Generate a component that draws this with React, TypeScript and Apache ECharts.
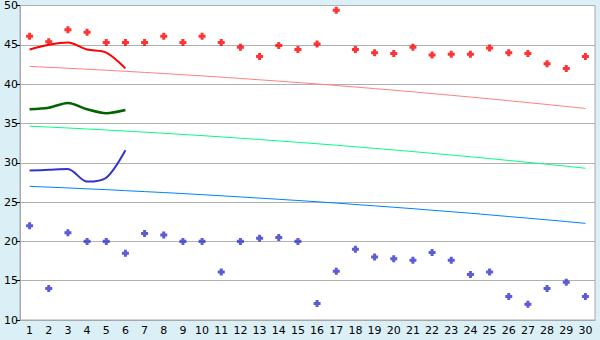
import React, { useEffect, useRef } from "react";
import * as echarts from "echarts";

const categories = Array.from({ length: 30 }, (_, i) => String(i + 1));

const redPoints = [46.1, 45.4, 46.9, 46.6, 45.3, 45.3, 45.3, 46.1, 45.3, 46.1, 45.3, 44.7, 43.5, 44.9, 44.4, 45.1, 49.4, 44.4, 44.0, 43.9, 44.7, 43.7, 43.8, 43.8, 44.6, 44.0, 43.9, 42.6, 42.0, 43.5];
const bluePoints = [22.0, 14.0, 21.1, 20.0, 20.0, 18.5, 21.0, 20.8, 20.0, 20.0, 16.1, 20.0, 20.4, 20.5, 20.0, 12.1, 16.2, 19.0, 18.0, 17.8, 17.6, 18.6, 17.6, 15.8, 16.1, 13.0, 12.0, 14.0, 14.8, 13.0];

const redCurve = [44.4, 45.0, 45.3, 44.4, 44.0, 42.0];
const greenCurve = [36.8, 37.0, 37.6, 36.8, 36.3, 36.7];
const blueCurve = [29.0, 29.1, 29.2, 27.6, 28.1, 31.6];

const pinkTrend = [42.25, 42.14, 42.02, 41.89, 41.77, 41.63, 41.49, 41.35, 41.2, 41.05, 40.89, 40.72, 40.55, 40.38, 40.2, 40.02, 39.83, 39.63, 39.43, 39.23, 39.02, 38.8, 38.58, 38.36, 38.13, 37.89, 37.65, 37.41, 37.16, 36.9];
const greenTrend = [34.65, 34.54, 34.42, 34.29, 34.17, 34.03, 33.89, 33.75, 33.6, 33.45, 33.29, 33.12, 32.95, 32.78, 32.6, 32.42, 32.23, 32.03, 31.83, 31.63, 31.42, 31.2, 30.98, 30.76, 30.53, 30.29, 30.05, 29.81, 29.56, 29.3];
const blueTrend = [27.0, 26.9, 26.8, 26.68, 26.58, 26.45, 26.33, 26.21, 26.08, 25.94, 25.8, 25.65, 25.5, 25.35, 25.2, 25.04, 24.87, 24.69, 24.52, 24.34, 24.16, 23.96, 23.77, 23.58, 23.37, 23.16, 22.95, 22.74, 22.52, 22.29];

const yMin = 10;
const yMax = 50;
const yStep = 5;

const plus = "path://M2,0H5V2H7V5H5V7H2V5H0V2H2Z";

export default function App() {
  const ref = useRef<HTMLDivElement>(null);
  useEffect(() => {
    if (!ref.current) return;
    const chart = echarts.init(ref.current, undefined, { renderer: "svg" });
    const font = { fontFamily: "DejaVu Sans", fontSize: 11, color: "#000" };
    chart.setOption({
      animation: false,
      backgroundColor: "#daeff6",
      grid: {
        left: 20,
        right: 5,
        top: 5,
        bottom: 20,
        show: true,
        backgroundColor: "#ffffff",
        borderColor: "#a8a8a8",
        borderWidth: 1,
      },
      xAxis: {
        type: "category",
        data: categories,
        boundaryGap: true,
        axisLine: { lineStyle: { color: "#a8a8a8", width: 1 } },
        axisTick: { alignWithLabel: true, length: 5, lineStyle: { color: "#000" } },
        axisLabel: { ...font, margin: 5, interval: 0 },
        splitLine: { show: false },
      },
      yAxis: {
        type: "value",
        min: yMin,
        max: yMax,
        interval: yStep,
        axisLine: { show: true, lineStyle: { color: "#a8a8a8", width: 1 } },
        axisTick: { show: true, length: 4, lineStyle: { color: "#000" } },
        axisLabel: { ...font, margin: 2 },
        splitLine: { lineStyle: { color: "#b0b0b0", width: 1 } },
      },
      series: [
        {
          type: "line",
          data: pinkTrend,
          symbol: "none",
          lineStyle: { color: "#ff8080", width: 1 },
        },
        {
          type: "line",
          data: greenTrend,
          symbol: "none",
          lineStyle: { color: "#00ff80", width: 1 },
        },
        {
          type: "line",
          data: blueTrend,
          symbol: "none",
          lineStyle: { color: "#0080ff", width: 1 },
        },
        {
          type: "line",
          data: redCurve,
          smooth: 0.3,
          symbol: "none",
          lineStyle: { color: "#ff0000", width: 2 },
        },
        {
          type: "line",
          data: greenCurve,
          smooth: 0.3,
          symbol: "none",
          lineStyle: { color: "#006400", width: 2.5 },
        },
        {
          type: "line",
          data: blueCurve,
          smooth: 0.3,
          symbol: "none",
          lineStyle: { color: "#3333cc", width: 2 },
        },
        {
          type: "scatter",
          data: redPoints,
          symbol: plus,
          symbolSize: 7,
          itemStyle: { color: "#ff0000" },
        },
        {
          type: "scatter",
          data: bluePoints,
          symbol: plus,
          symbolSize: 7,
          itemStyle: { color: "#3333cc" },
        },
      ],
    });
    return () => chart.dispose();
  }, []);
  return (
    <div
      ref={ref}
      style={{ position: "fixed", left: 0, top: 0, width: 600, height: 340 }}
    />
  );
}
